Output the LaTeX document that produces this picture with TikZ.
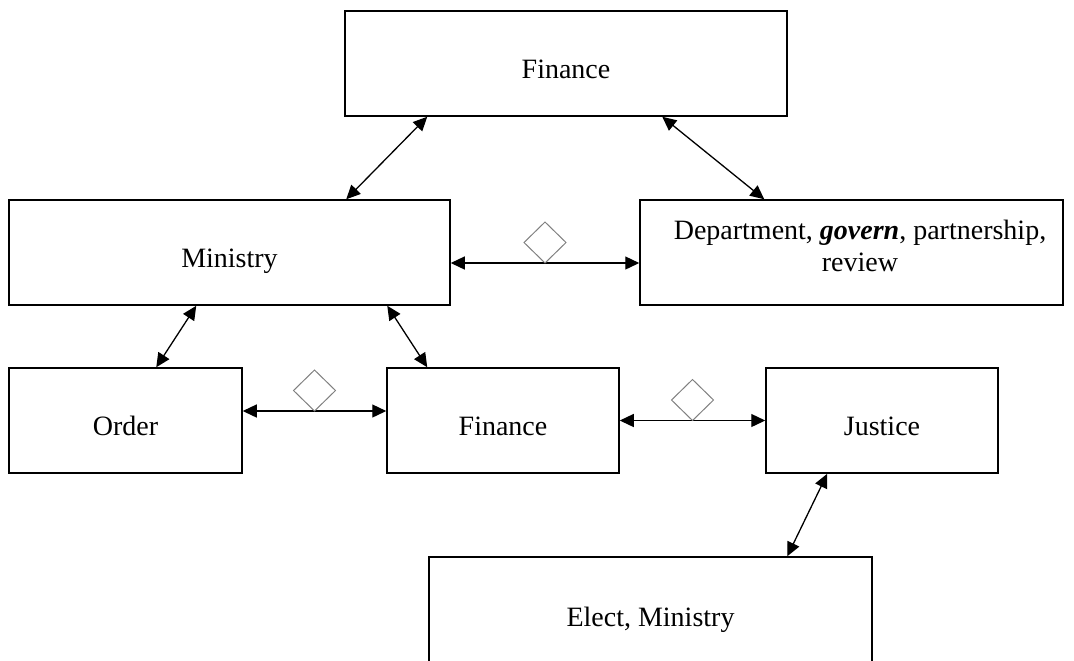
\documentclass[tikz,border=0pt]{standalone}
\usepackage{fontspec}
\setmainfont{Liberation Serif}
\usetikzlibrary{shapes,arrows.meta,calc}

\begin{document}
\begin{tikzpicture}[x=0.5pt,y=-0.5pt,font=\fontsize{14}{16}\selectfont]
   \tikzset{box node/.style={rectangle, draw, line width=0.75pt, inner sep=0pt,
   		minimum height=52.5pt, text height=18.2pt, text depth=2.8pt,
   		text centered}, }
   \tikzset{rombo node/.style={diamond, draw=gray, line width=0.5pt,
   		minimum width=21pt, minimum height=20.5pt, inner sep=0pt,
   		outer sep=0pt}, }
   \tikzset{linea/.style={<->, >={Triangle[length=7pt,width=6.5pt]},
   		line width=0.65pt},}

\clip (0,0) rectangle (1074,660);
\node[box node, minimum width=221pt] (1) at (566,63.5) {Finance};
\node[box node, minimum width=220.5pt] (2) at (229.5,252.5) {Ministry};
\node[box node, minimum width=211.5pt, text height=12.5pt, text depth=9pt] (3) at (851.5,252.5)
   {\begin{tabular}{@{\hspace{8.5pt}}c@{}}Department, \textbf{\textit{govern}}, partnership,\\ review\end{tabular}};
\node[box node, minimum width=116.5pt] (4) at (125.5,420.5) {Order};
\node[box node, minimum width=116pt] (5) at (503,420.5) {Finance};
\node[box node, minimum width=116pt] (6) at (882,420.5) {Justice};
\node[box node, minimum width=221.5pt, minimum height=54pt] (7) at (650.5,611) {Elect, Ministry};
% diagonal links
\foreach \x/\dx/\y/\dy in {1/83/2/338, 1/318/3/125, 2/188/4/148, 2/379/5/41, 6/62/7/359}
\draw[linea] ($(\x.south west)+(\dx,0)$) -- ($(\y.north west)+(\dy,0)$);
% links with diamond
\foreach \x/\y/\dy in {2/3/10.5, 4/5/-9.5, 5/6/0}
\draw[linea] ($(\x.east)+(0,\dy)$) -- node[rombo node, above] {} ($(\y.west)+(0,\dy)$);
%
\end{tikzpicture}
\end{document}
